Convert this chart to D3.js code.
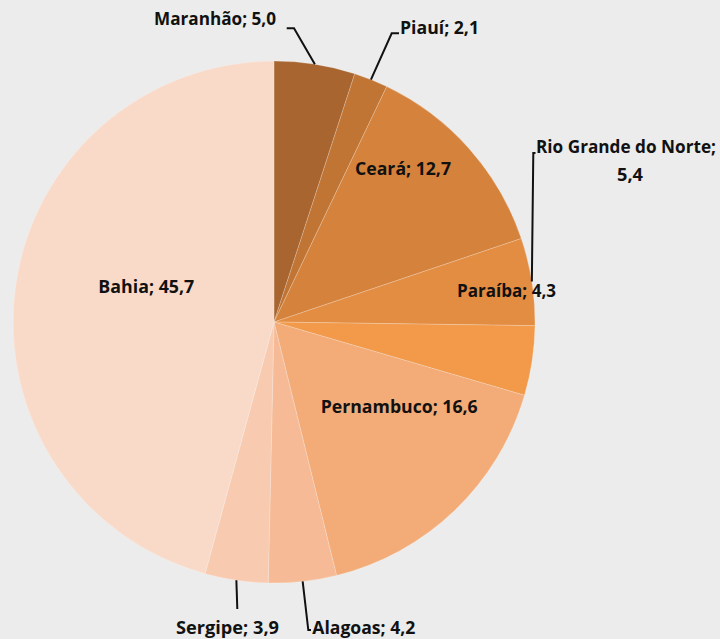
<!DOCTYPE html>
<html>
<head>
<meta charset="utf-8">
<script src="https://cdn.jsdelivr.net/npm/d3@7"></script>
<style>
  html, body { margin: 0; padding: 0; background: #ebeceb; }
  svg { display: block; }
  text { font-family: "Open Sans", "Noto Sans", sans-serif; font-weight: 700; fill: #111; }
</style>
</head>
<body>
<svg id="chart" width="720" height="639"></svg>
<script>
// ---- data ----
const categories = ["Maranhão", "Piauí", "Ceará", "Rio Grande do Norte", "Paraíba", "Pernambuco", "Alagoas", "Sergipe", "Bahia"];
const values = [5.0, 2.1, 12.7, 5.4, 4.3, 16.6, 4.2, 3.9, 45.7];
const colors = ["#a8652f", "#c17534", "#d5833c", "#e38d43", "#f29a4a", "#f3ab77", "#f6bb96", "#f8cbb0", "#f9dac9"];

// ---- layout (label placement relative to pie centre) ----
const W = 720, H = 639;
const cx = 274, cy = 322, R = 261;
const labelLayout = [
  { lines: [{ t: "Maranhão; 5,0", x: -120, y: -297, w: 122 }], leader: [[20, -293.7], [12.7, -293.7]] },
  { lines: [{ t: "Piauí; 2,1", x: 126, y: -288, w: 79 }], leader: [[117.7, -288.7], [125, -288.7]] },
  { lines: [{ t: "Ceará; 12,7", x: 81, y: -147, w: 96 }], leader: null },
  { lines: [{ t: "Rio Grande do Norte;", x: 262, y: -169.5, w: 180 }, { t: "5,4", x: 343, y: -141.5, w: 26 }], leader: [[259.3, -169], [261.5, -169]] },
  { lines: [{ t: "Paraíba; 4,3", x: 183, y: -25.5, w: 99 }], leader: null },
  { lines: [{ t: "Pernambuco; 16,6", x: 46.7, y: 91.3, w: 157 }], leader: null },
  { lines: [{ t: "Alagoas; 4,2", x: 38.3, y: 312, w: 103 }], leader: [[34.3, 308], [37, 308]] },
  { lines: [{ t: "Sergipe; 3,9", x: -98, y: 312, w: 103 }], leader: [[-36.7, 287]] },
  { lines: [{ t: "Bahia; 45,7", x: -175.7, y: -29, w: 96 }], leader: null }
];

const svg = d3.select("#chart");
svg.append("rect").attr("width", W).attr("height", H).attr("fill", "#ebeceb");

const g = svg.append("g").attr("transform", `translate(${cx},${cy})`);

const pie = d3.pie().sort(null).value(d => d.v).startAngle(0).endAngle(2 * Math.PI);
const data = categories.map((c, i) => ({ c, v: values[i], col: colors[i], lay: labelLayout[i] }));
const arcs = pie(data);
const arc = d3.arc().innerRadius(0).outerRadius(R);

g.selectAll("path.slice")
  .data(arcs)
  .join("path")
  .attr("class", "slice")
  .attr("d", arc)
  .attr("fill", d => d.data.col)
  .attr("stroke", "rgba(255,255,255,0.35)")
  .attr("stroke-width", 0.6);

const line = d3.line();
arcs.forEach(a => {
  const lay = a.data.lay;
  if (!lay.leader) return;
  const mid = (a.startAngle + a.endAngle) / 2;
  const edge = [R * Math.sin(mid), -R * Math.cos(mid)];
  const pts = [edge].concat(lay.leader);
  g.append("path")
    .attr("d", line(pts))
    .attr("fill", "none")
    .attr("stroke", "#111")
    .attr("stroke-width", 2)
    .attr("stroke-linejoin", "miter");
});

arcs.forEach(a => {
  a.data.lay.lines.forEach(l => {
    g.append("text")
      .attr("x", l.x)
      .attr("y", l.y)
      .attr("font-size", 17.5)
      .attr("textLength", l.w)
      .attr("lengthAdjust", "spacingAndGlyphs")
      .text(l.t);
  });
});
</script>
</body>
</html>
